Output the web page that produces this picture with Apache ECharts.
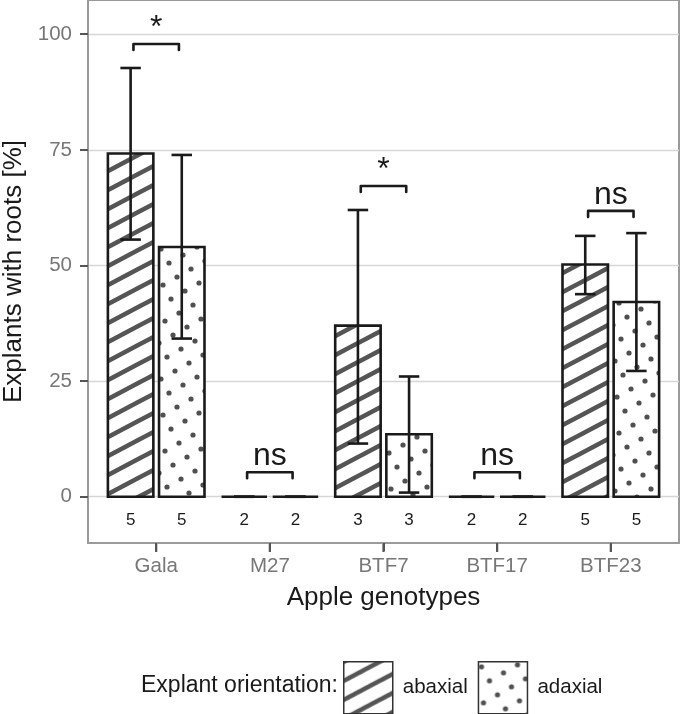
<!DOCTYPE html>
<html><head><meta charset="utf-8">
<script src="https://cdn.jsdelivr.net/npm/echarts@6/dist/echarts.min.js"></script>
<style>html,body{margin:0;padding:0;background:#fff}#c{width:685px;height:714px}</style>
</head><body><div id="c"></div>
<script>
const categories = ['Gala', 'M27', 'BTF7', 'BTF17', 'BTF23'];
const seriesNames = ['abaxial', 'adaxial'];
const abaxialMean = [74.2, 0, 37.0, 0, 50.2];
const abaxialUpper = [92.7, 0, 62.0, 0, 56.4];
const abaxialLower = [55.6, 0, 11.5, 0, 43.8];
const adaxialMean = [54.0, 0, 13.5, 0, 42.1];
const adaxialUpper = [73.9, 0, 26.0, 0, 57.0];
const adaxialLower = [34.2, 0, 0.9, 0, 27.2];
const abaxialN = [5, 2, 3, 2, 5];
const adaxialN = [5, 2, 3, 2, 5];
const sigLabels = ['*', 'ns', '*', 'ns', 'ns'];
const sigY = [97.9, 5.3, 67.2, 5.3, 61.8];
const nLabelY = -5;
const yTicks = [0, 25, 50, 75, 100];
const xTicks = [1, 2, 3, 4, 5];
const Y_MIN = -10, Y_MAX = 107.4;

const FONT = "'Liberation Sans', Arial, sans-serif";

function hatchPattern() {
  const W = 36, H = 19;
  const c = document.createElement('canvas'); c.width = W; c.height = H;
  const g = c.getContext('2d');
  g.fillStyle = '#fff'; g.fillRect(0, 0, W, H);
  g.strokeStyle = '#555'; g.lineWidth = 4.6;
  for (let k = -1; k <= 1; k++) {
    g.beginPath(); g.moveTo(-W, 2 * H + k * H); g.lineTo(2 * W, -H + k * H); g.stroke();
  }
  return { image: c, repeat: 'repeat' };
}
function dotPattern() {
  const T = 130;
  const c = document.createElement('canvas'); c.width = T; c.height = T;
  const g = c.getContext('2d');
  g.fillStyle = '#fff'; g.fillRect(0, 0, T, T);
  g.fillStyle = '#505050';
  for (let i = -30; i <= 30; i++) for (let j = -30; j <= 30; j++) {
    const px = 8 * i - 14 * j + 3, py = 14 * i + 8 * j + 5;
    if (px >= 0 && px < T && py >= 0 && py < T) {
      for (let ox = -1; ox <= 1; ox++) for (let oy = -1; oy <= 1; oy++) {
        g.beginPath(); g.arc(px + ox * T, py + oy * T, 2.6, 0, Math.PI * 2); g.fill();
      }
    }
  }
  return { image: c, repeat: 'repeat' };
}
const patterns = [hatchPattern(), dotPattern()];
const offsets = [-0.225, 0.225];
const means = [abaxialMean, adaxialMean];
const uppers = [abaxialUpper, adaxialUpper];
const lowers = [abaxialLower, adaxialLower];
const ns = [abaxialN, adaxialN];

const series = [];
seriesNames.forEach((name, s) => {
  series.push({
    type: 'custom', name: name, silent: true, z: 2,
    itemStyle: { color: patterns[s], borderColor: '#1a1a1a', borderWidth: 2.5 },
    data: means[s].map((v, i) => [xTicks[i], v]),
    renderItem(params, api) {
      const x = api.value(0) + offsets[s], v = api.value(1);
      const p0 = api.coord([x - 0.2, v]), p1 = api.coord([x + 0.2, 0]);
      return { type: 'rect', shape: { x: p0[0], y: p0[1], width: p1[0] - p0[0], height: p1[1] - p0[1] },
        style: { fill: patterns[s], stroke: '#1a1a1a', lineWidth: 2.6 } };
    }
  });
});
seriesNames.forEach((name, s) => {
  series.push({
    type: 'custom', silent: true, z: 3,
    data: means[s].map((v, i) => [xTicks[i], lowers[s][i], uppers[s][i]]),
    renderItem(params, api) {
      const x = api.value(0) + offsets[s];
      const lo = api.value(1), hi = api.value(2);
      const a = api.coord([x, hi]), b = api.coord([x, lo]);
      const l = api.coord([x - 0.09, hi]), r = api.coord([x + 0.09, hi]);
      const l2 = api.coord([x - 0.09, lo]), r2 = api.coord([x + 0.09, lo]);
      const st = { stroke: '#1a1a1a', lineWidth: 2.6 };
      return { type: 'group', children: [
        { type: 'line', shape: { x1: a[0], y1: a[1], x2: b[0], y2: b[1] }, style: st },
        { type: 'line', shape: { x1: l[0], y1: l[1], x2: r[0], y2: r[1] }, style: st },
        { type: 'line', shape: { x1: l2[0], y1: l2[1], x2: r2[0], y2: r2[1] }, style: st }
      ] };
    }
  });
  series.push({
    type: 'custom', silent: true, z: 3,
    data: ns[s].map((v, i) => [xTicks[i], nLabelY, v]),
    renderItem(params, api) {
      const p = api.coord([api.value(0) + offsets[s], api.value(1)]);
      return { type: 'text', x: p[0], y: p[1], style: { text: String(api.value(2)), fill: '#1a1a1a',
        font: "17px " + FONT, align: 'center', verticalAlign: 'middle' } };
    }
  });
});
series.push({
  type: 'custom', silent: true, z: 4,
  data: sigY.map((v, i) => [xTicks[i], v, i]),
  renderItem(params, api) {
    const x = api.value(0), y = api.value(1), i = api.value(2);
    const pts = [api.coord([x - 0.2, y - 1.3]), api.coord([x - 0.2, y]), api.coord([x + 0.2, y]), api.coord([x + 0.2, y - 1.3])];
    const c = api.coord([x, y]);
    return { type: 'group', children: [
      { type: 'polyline', shape: { points: pts }, style: { stroke: '#1a1a1a', lineWidth: 2.6, fill: null, lineJoin: 'round', lineCap: 'round' } },
      { type: 'text', x: c[0], y: c[1], style: { text: sigLabels[i], fill: '#1a1a1a', font: "32px " + FONT, align: 'center', verticalAlign: 'bottom' } }
    ] };
  }
});

const chart = echarts.init(document.getElementById('c'), null, { renderer: 'canvas' });
chart.setOption({
  animation: false,
  backgroundColor: '#fff',
  textStyle: { fontFamily: FONT },
  grid: { left: 88, right: 6, top: 0, bottom: 171, outerBoundsMode: 'none', containLabel: false,
    show: true, borderColor: '#9a9a9a', borderWidth: 2, backgroundColor: '#fff' },
  xAxis: {
    type: 'value', min: 0.4, max: 5.6, position: 'bottom',
    axisLine: { show: true, onZero: false, lineStyle: { color: '#9a9a9a', width: 2 } }, splitLine: { show: false },
    axisTick: { show: true, customValues: xTicks, length: 8, lineStyle: { color: '#555', width: 2 } },
    axisLabel: { customValues: xTicks, formatter: v => categories[Math.round(v) - 1], color: '#777', fontSize: 20.5, margin: 13, fontFamily: FONT },
    name: 'Apple genotypes', nameLocation: 'middle', nameGap: 41.5,
    nameTextStyle: { fontSize: 26, color: '#1a1a1a', fontFamily: FONT }
  },
  yAxis: {
    type: 'value', min: Y_MIN, max: Y_MAX, position: 'left',
    axisLine: { show: true, onZero: false, lineStyle: { color: '#9a9a9a', width: 2 } },
    axisTick: { show: true, customValues: yTicks, length: 8, lineStyle: { color: '#555', width: 2 } },
    axisLabel: { customValues: yTicks, color: '#777', fontSize: 20.5, margin: 16, fontFamily: FONT },
    splitLine: { show: true, lineStyle: { color: '#d6d6d6', width: 1.3 } },
    name: 'Explants with roots [%]', nameLocation: 'middle', nameGap: 58,
    nameTextStyle: { fontSize: 26, color: '#1a1a1a', fontFamily: FONT }
  },
  legend: {
    data: seriesNames, left: 343, top: 661, padding: 0, icon: 'rect', itemWidth: 49, itemHeight: 52, itemGap: 10,
    selectedMode: false,
    itemStyle: { borderColor: '#333', borderWidth: 1.5 },
    textStyle: { fontSize: 20.5, color: '#1a1a1a', fontFamily: FONT, padding: [0, 0, 0, 5] }
  },
  graphic: [{ type: 'text', left: 141, top: 674, style: { text: 'Explant orientation:', font: '23px ' + FONT, fill: '#1a1a1a' } }],
  series: series
});
// x tick marks under the panel, positioned through the x axis scale
const yBase = chart.convertToPixel({ yAxisIndex: 0 }, Y_MIN);
const tickGraphics = xTicks.map(v => {
  const px = chart.convertToPixel({ xAxisIndex: 0 }, v);
  return { type: 'line', z: 100, silent: true, shape: { x1: px, y1: yBase + 1, x2: px, y2: yBase + 9 }, style: { stroke: '#555', lineWidth: 2.2 } };
});
chart.setOption({ graphic: [{ type: 'text', left: 141, top: 674, style: { text: 'Explant orientation:', font: '23px ' + FONT, fill: '#1a1a1a' } }].concat(tickGraphics) }, { replaceMerge: ['graphic'] });
</script></body></html>
